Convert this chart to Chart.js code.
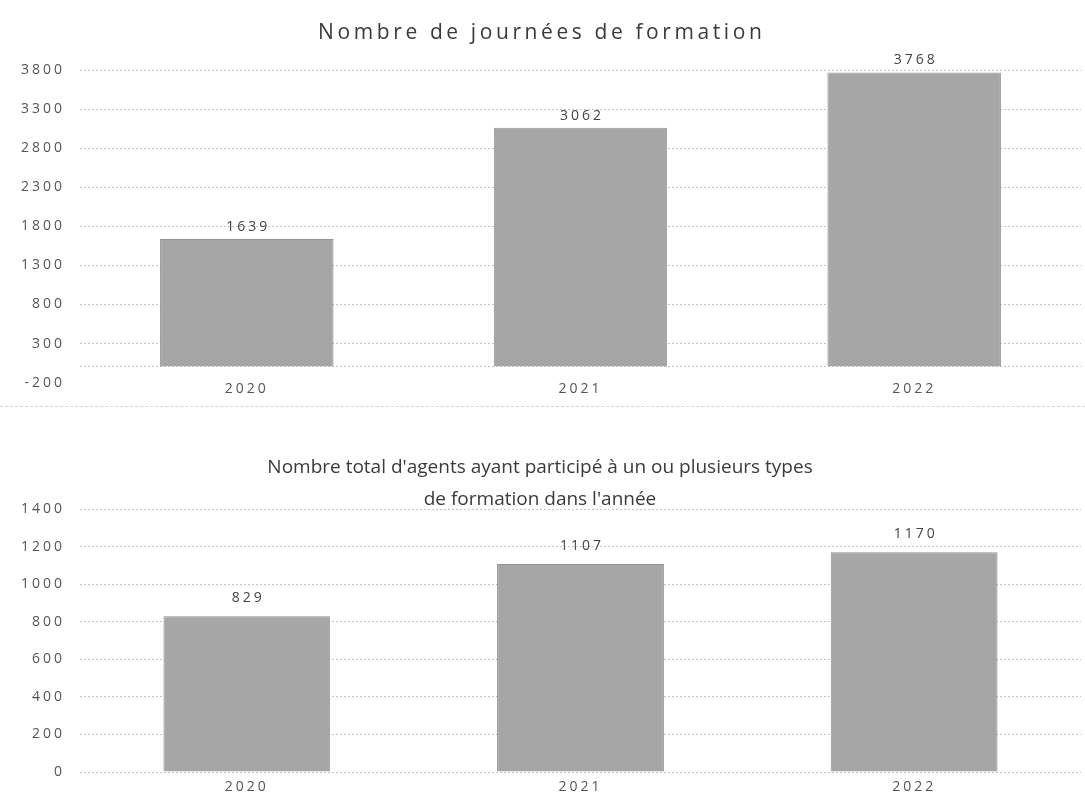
<!DOCTYPE html>
<html><head><meta charset="utf-8">
<script src="https://cdn.jsdelivr.net/npm/chart.js@4/dist/chart.umd.min.js"></script>
<style>
html,body{margin:0;padding:0;background:#fff;width:1085px;height:802px;overflow:hidden}
#c1wrap{position:absolute;left:0;top:0;width:1085px;height:406px}
#c2wrap{position:absolute;left:0;top:412px;width:1085px;height:384px}
#sep{position:absolute;left:0;top:406px;width:1085px;border-top:1px dashed #d4d4d4}
</style></head><body>
<div id="c1wrap"><canvas id="c1"></canvas></div>
<div id="c2wrap"><canvas id="c2"></canvas></div>
<div id="sep"></div>
<script>
const years = ['2020','2021','2022'];
const journees = [1639, 3062, 3768];
const agents = [829, 1107, 1170];
const title1 = ['Nombre de journées de formation'];
const title2 = ["Nombre total d'agents ayant participé à un ou plusieurs types", "de formation dans l'année"];

const FONT = '"Open Sans", "DejaVu Sans", sans-serif';
const SPACING = '3px';
const spacingPlugin = {
  id: 'spacing',
  beforeUpdate(c) { c.ctx.letterSpacing = SPACING; },
  beforeLayout(c) { c.ctx.letterSpacing = SPACING; },
  beforeDraw(c) { c.ctx.letterSpacing = SPACING; }
};
const valueLabels = {
  id: 'valueLabels',
  afterDatasetsDraw(chart, args, opts) {
    const ctx = chart.ctx;
    ctx.save();
    ctx.letterSpacing = SPACING;
    ctx.font = '14px ' + FONT;
    ctx.fillStyle = '#444';
    ctx.textAlign = 'center';
    ctx.textBaseline = 'bottom';
    const meta = chart.getDatasetMeta(0);
    meta.data.forEach((bar, i) => {
      ctx.fillText(String(chart.data.datasets[0].data[i]), bar.x + 1.5, bar.y - opts.gap);
    });
    ctx.restore();
  }
};
const ownTitle = {
  id: 'ownTitle',
  afterDraw(chart, args, opts) {
    const ctx = chart.ctx;
    ctx.save();
    ctx.letterSpacing = opts.spacing + 'px';
    ctx.font = opts.size + 'px ' + FONT;
    ctx.fillStyle = '#3a3a3a';
    ctx.textAlign = 'center';
    ctx.textBaseline = 'middle';
    opts.lines.forEach((t, i) => {
      ctx.fillText(t, 540 + opts.spacing / 2, opts.y + i * opts.lineGap);
    });
    ctx.restore();
  }
};

function makeChart(id, data, titleOpts, min, max, step, padTop, barPct, zeroExtra, xPad, xH, gap) {
  return new Chart(document.getElementById(id), {
    type: 'bar',
    data: { labels: years, datasets: [{ data: data, backgroundColor: '#a6a6a6', borderColor: '#929292', borderWidth: 1, barPercentage: barPct, categoryPercentage: 1 }] },
    options: {
      responsive: true, maintainAspectRatio: false, animation: false,
      layout: { padding: { left: 0, right: 4, top: padTop, bottom: 0 } },
      plugins: {
        legend: { display: false }, tooltip: { enabled: false }, title: { display: false },
        ownTitle: titleOpts, valueLabels: { gap: gap }
      },
      scales: {
        x: { grid: { display: false, drawTicks: false }, border: { display: false },
             ticks: { color: '#555', font: { family: FONT, size: 14 }, padding: xPad },
             afterFit(s) { s.height = xH; } },
        y: { min: min, max: max, border: { display: false, dash: [2, 2] },
             grid: { drawTicks: false, color: (c) => (c.tick && c.tick.value === min && zeroExtra) ? 'rgba(0,0,0,0)' : '#c4c4c4' },
             afterBuildTicks(s) { if (zeroExtra) { s.ticks.push({ value: 0, extra: true }); } },
             ticks: { stepSize: step, color: '#555', font: { family: FONT, size: 14 }, padding: 15,
                      callback: function(v, i, t) { return (t[i] && t[i].extra) ? '' : String(v); } },
             afterFit(s) { s.width = 80; } }
      }
    },
    plugins: [spacingPlugin, valueLabels, ownTitle]
  });
}
makeChart('c1', journees, { lines: title1, size: 21, spacing: 3.6, y: 33, lineGap: 0 }, -200, 3800, 500, 70, 0.52, true, -2, 17, 5);
makeChart('c2', agents, { lines: title2, size: 19, spacing: 0, y: 56, lineGap: 32 }, 0, 1400, 200, 97, 0.5, false, 7, 24, 11);
</script>
</body></html>
